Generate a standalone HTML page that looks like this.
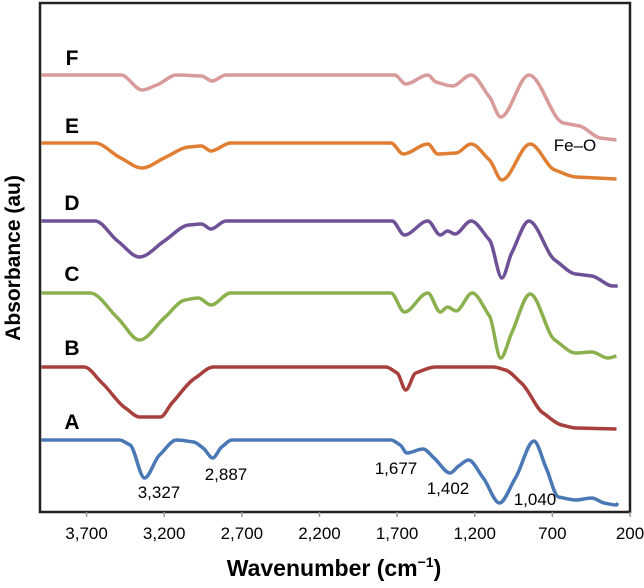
<!DOCTYPE html>
<html><head><meta charset="utf-8"><style>
html,body{margin:0;padding:0;background:#fff;overflow:hidden;}
svg text{font-family:"Liberation Sans",Arial,sans-serif;}
</style></head><body>
<svg id="chart" width="644" height="583" viewBox="0 0 644 583" xmlns="http://www.w3.org/2000/svg">
<rect x="40" y="3" width="590" height="509" fill="none" stroke="#222" stroke-width="2.5"/>
<g id="ticks"></g>
<g id="series"></g>
<text x="72" y="65" font-size="21" font-weight="bold" text-anchor="middle">F</text>
<text x="72" y="133" font-size="21" font-weight="bold" text-anchor="middle">E</text>
<text x="72" y="210" font-size="21" font-weight="bold" text-anchor="middle">D</text>
<text x="72" y="281" font-size="21" font-weight="bold" text-anchor="middle">C</text>
<text x="72" y="355" font-size="21" font-weight="bold" text-anchor="middle">B</text>
<text x="72" y="429" font-size="21" font-weight="bold" text-anchor="middle">A</text>
<text x="159" y="498" font-size="17" text-anchor="middle">3,327</text>
<text x="226" y="480" font-size="17" text-anchor="middle">2,887</text>
<text x="396" y="474" font-size="17" text-anchor="middle">1,677</text>
<text x="448" y="494" font-size="17" text-anchor="middle">1,402</text>
<text x="535" y="505" font-size="17" text-anchor="middle">1,040</text>
<text x="575" y="151" font-size="17" text-anchor="middle">Fe–O</text>
<text x="334" y="576" font-size="23" font-weight="bold" text-anchor="middle">Wavenumber (cm<tspan font-size="14" dy="-9">−1</tspan><tspan dy="9">)</tspan></text>
<text transform="translate(20,258) rotate(-90)" font-size="21" font-weight="bold" text-anchor="middle">Absorbance (au)</text>
</svg>
<script>
const tickValues=[3700,3200,2700,2200,1700,1200,700,200];
const tickLabels=["3,700","3,200","2,700","2,200","1,700","1,200","700","200"];
const seriesNames=["A","B","C","D","E","F"];
const seriesColors=["#4a78b5","#a7403d","#8bb04e","#6e5197","#e07f34","#d99a9a"];
const seriesA=[[3990,73],[3490,73],[3420,68],[3327,35],[3230,58],[3121,73],[3010,71],[2950,65],[2887,55],[2830,66],[2764,73],[1740,73],[1680,68],[1637,60],[1533,64],[1462,55],[1359,40],[1303,47],[1240,53],[1145,35],[1041,10],[938,35],[819,72],[740,45],[660,16],[549,13],[446,15],[367,10],[287,8],[279,10]];
const seriesB=[[3990,146],[3716,146],[3600,130],[3450,105],[3359,96],[3224,96],[3150,110],[3000,135],[2883,146],[1772,146],[1700,140],[1644,123],[1580,140],[1454,146],[1081,146],[1002,143],[900,130],[760,100],[640,88],[549,85],[287,84]];
const seriesC=[[3990,220],[3677,220],[3500,195],[3359,173],[3200,195],[3065,213],[2980,215],[2899,208],[2772,220],[1740,220],[1653,201],[1502,220],[1422,201],[1375,206],[1320,202],[1216,220],[1105,197],[1033,155],[962,180],[843,219],[684,173],[549,160],[446,161],[343,155],[287,157]];
const seriesD=[[3990,292],[3645,292],[3500,272],[3359,256],[3200,272],[3041,288],[2960,289],[2899,284],[2803,292],[1732,292],[1653,278],[1502,292],[1422,278],[1375,282],[1327,279],[1224,292],[1105,273],[1025,235],[962,260],[851,292],[684,253],[549,239],[446,237],[311,227],[279,227]];
const seriesE=[[3990,370],[3645,370],[3480,355],[3343,345],[3200,355],[3041,366],[2960,367],[2899,362],[2772,370],[1740,370],[1660,359],[1502,369],[1438,359],[1320,360],[1224,369],[1105,353],[1025,333],[843,369],[684,343],[549,336],[287,334]];
const seriesF=[[3990,438],[3478,438],[3343,423],[3248,428],[3121,438],[2960,437],[2891,432],[2803,438],[1716,438],[1644,429],[1502,438],[1450,431],[1343,427],[1224,438],[1105,416],[1033,396],[851,438],[629,390],[525,387],[390,375],[287,373]];
const allSeries=[seriesA,seriesB,seriesC,seriesD,seriesE,seriesF];
function xScale(w){return 40+(4000-w)*(590/3800);}
function yScale(v){return 513-v;}
const NS="http://www.w3.org/2000/svg";
const tg=document.getElementById('ticks');
tickValues.forEach((t,i)=>{
  const l=document.createElementNS(NS,'line');
  
  
  l.setAttribute('x1',xScale(t));l.setAttribute('x2',xScale(t));
  l.setAttribute('y1',512);l.setAttribute('y2',517);
  l.setAttribute('stroke','#999');l.setAttribute('stroke-width','1.5');
  tg.appendChild(l);
  const tx=document.createElementNS(NS,'text');
  
  
  tx.setAttribute('x',xScale(t));tx.setAttribute('y',539);
  tx.setAttribute('font-size','17');tx.setAttribute('text-anchor','middle');
  tx.textContent=tickLabels[i];
  tg.appendChild(tx);
});
function pathFor(pts){
  const p=pts.map(d=>[xScale(d[0]),yScale(d[1])]).sort((a,b)=>a[0]-b[0]);
  const n=p.length, m=[], sl=[];
  for(let i=0;i<n-1;i++){sl.push((p[i+1][1]-p[i][1])/((p[i+1][0]-p[i][0])||1e-6));}
  for(let i=0;i<n;i++){
    if(i===0)m.push(sl[0]);
    else if(i===n-1)m.push(sl[n-2]);
    else{
      const a=sl[i-1],b=sl[i];
      if(a*b<=0)m.push(0);
      else{
        const h0=p[i][0]-p[i-1][0],h1=p[i+1][0]-p[i][0];
        const v=(a*h1+b*h0)/(h0+h1);
        m.push(Math.sign(a)*Math.min(Math.abs(a),Math.abs(b),Math.abs(v)/2*2)*1);
      }
    }
  }
  let s='M'+p[0][0]+','+p[0][1];
  for(let i=0;i<n-1;i++){
    const h=(p[i+1][0]-p[i][0])/3;
    s+=' C'+(p[i][0]+h)+','+(p[i][1]+m[i]*h)+' '+(p[i+1][0]-h)+','+(p[i+1][1]-m[i+1]*h)+' '+p[i+1][0]+','+p[i+1][1];
  }
  return s;
}
const sg=document.getElementById('series');
allSeries.forEach((d,i)=>{
  const pa=document.createElementNS(NS,'path');
  
  
  pa.setAttribute('d',pathFor(d));
  pa.setAttribute('fill','none');
  pa.setAttribute('stroke',seriesColors[i]);
  pa.setAttribute('stroke-width','3.5');
  pa.setAttribute('stroke-linejoin','round');
  sg.appendChild(pa);
});
</script>
</body></html>
